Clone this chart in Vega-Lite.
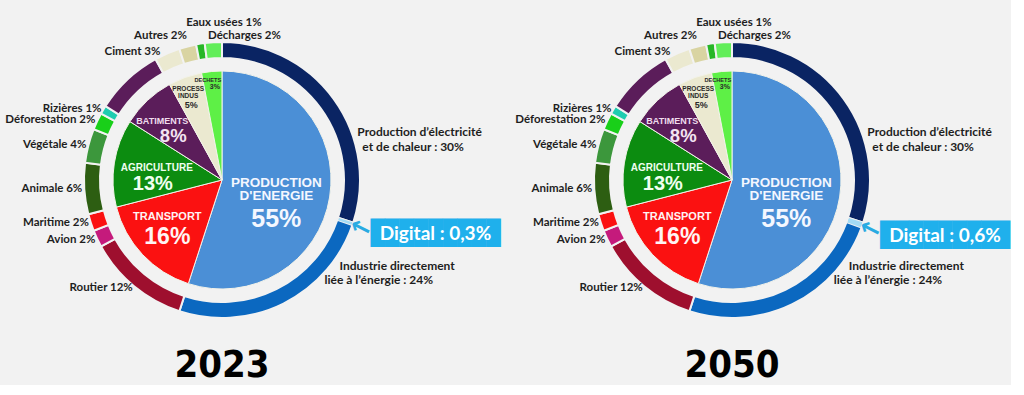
{
  "$schema": "https://vega.github.io/schema/vega-lite/v6.json",
  "background": "#f2f2f2",
  "padding": 0,
  "bounds": "flush",
  "spacing": 66,
  "config": {"view": {"stroke": null}},
  "data": {"values": [
    {"year":"2023","ring":"inner","ord":1,"cat":"Énergie","name":"PRODUCTION\nD'ENERGIE","pct":"55%","value":55},
    {"year":"2023","ring":"inner","ord":2,"cat":"Transport","name":"TRANSPORT","pct":"16%","value":16},
    {"year":"2023","ring":"inner","ord":3,"cat":"Agriculture","name":"AGRICULTURE","pct":"13%","value":13},
    {"year":"2023","ring":"inner","ord":4,"cat":"Bâtiments","name":"BATIMENTS","pct":"8%","value":8},
    {"year":"2023","ring":"inner","ord":5,"cat":"Process","name":"PROCESS\nINDUS","pct":"5%","value":5},
    {"year":"2023","ring":"inner","ord":6,"cat":"Déchets","name":"DECHETS","pct":"3%","value":3},
    {"year":"2023","ring":"outer","ord":1,"cat":"Électricité","label":"Production d’électricité","label2":"et de chaleur : 30%","value":30},
    {"year":"2023","ring":"outer","ord":2,"cat":"Digital","label":"Digital : 0,3%","value":0.3},
    {"year":"2023","ring":"outer","ord":3,"cat":"Industrie","label":"Industrie directement","label2":"liée à l’énergie : 24%","value":24.7},
    {"year":"2023","ring":"outer","ord":4,"cat":"Routier","label":"Routier 12%","value":12},
    {"year":"2023","ring":"outer","ord":5,"cat":"Avion","label":"Avion 2%","value":2},
    {"year":"2023","ring":"outer","ord":6,"cat":"Maritime","label":"Maritime 2%","value":2},
    {"year":"2023","ring":"outer","ord":7,"cat":"Animale","label":"Animale 6%","value":6},
    {"year":"2023","ring":"outer","ord":8,"cat":"Végétale","label":"Végétale 4%","value":4},
    {"year":"2023","ring":"outer","ord":9,"cat":"Déforestation","label":"Déforestation 2%","value":2},
    {"year":"2023","ring":"outer","ord":10,"cat":"Rizières","label":"Rizières 1%","value":1},
    {"year":"2023","ring":"outer","ord":11,"cat":"Bâtiments","label":"","value":8},
    {"year":"2023","ring":"outer","ord":12,"cat":"Ciment","label":"Ciment 3%","value":3},
    {"year":"2023","ring":"outer","ord":13,"cat":"Autres","label":"Autres 2%","value":2},
    {"year":"2023","ring":"outer","ord":14,"cat":"Eaux usées","label":"Eaux usées 1%","value":1},
    {"year":"2023","ring":"outer","ord":15,"cat":"Décharges","label":"Décharges 2%","value":2},
    {"year":"2050","ring":"inner","ord":1,"cat":"Énergie","name":"PRODUCTION\nD'ENERGIE","pct":"55%","value":55},
    {"year":"2050","ring":"inner","ord":2,"cat":"Transport","name":"TRANSPORT","pct":"16%","value":16},
    {"year":"2050","ring":"inner","ord":3,"cat":"Agriculture","name":"AGRICULTURE","pct":"13%","value":13},
    {"year":"2050","ring":"inner","ord":4,"cat":"Bâtiments","name":"BATIMENTS","pct":"8%","value":8},
    {"year":"2050","ring":"inner","ord":5,"cat":"Process","name":"PROCESS\nINDUS","pct":"5%","value":5},
    {"year":"2050","ring":"inner","ord":6,"cat":"Déchets","name":"DECHETS","pct":"3%","value":3},
    {"year":"2050","ring":"outer","ord":1,"cat":"Électricité","label":"Production d’électricité","label2":"et de chaleur : 30%","value":30},
    {"year":"2050","ring":"outer","ord":2,"cat":"Digital","label":"Digital : 0,6%","value":0.6},
    {"year":"2050","ring":"outer","ord":3,"cat":"Industrie","label":"Industrie directement","label2":"liée à l’énergie : 24%","value":24.4},
    {"year":"2050","ring":"outer","ord":4,"cat":"Routier","label":"Routier 12%","value":12},
    {"year":"2050","ring":"outer","ord":5,"cat":"Avion","label":"Avion 2%","value":2},
    {"year":"2050","ring":"outer","ord":6,"cat":"Maritime","label":"Maritime 2%","value":2},
    {"year":"2050","ring":"outer","ord":7,"cat":"Animale","label":"Animale 6%","value":6},
    {"year":"2050","ring":"outer","ord":8,"cat":"Végétale","label":"Végétale 4%","value":4},
    {"year":"2050","ring":"outer","ord":9,"cat":"Déforestation","label":"Déforestation 2%","value":2},
    {"year":"2050","ring":"outer","ord":10,"cat":"Rizières","label":"Rizières 1%","value":1},
    {"year":"2050","ring":"outer","ord":11,"cat":"Bâtiments","label":"","value":8},
    {"year":"2050","ring":"outer","ord":12,"cat":"Ciment","label":"Ciment 3%","value":3},
    {"year":"2050","ring":"outer","ord":13,"cat":"Autres","label":"Autres 2%","value":2},
    {"year":"2050","ring":"outer","ord":14,"cat":"Eaux usées","label":"Eaux usées 1%","value":1},
    {"year":"2050","ring":"outer","ord":15,"cat":"Décharges","label":"Décharges 2%","value":2}
  ]},
  "facet": {"column": {"field": "year", "type": "nominal", "header": {"title": null, "labelOrient": "bottom", "labelFont": "DejaVu Sans Condensed", "labelFontSize": 38, "labelFontWeight": "bold", "labelColor": "#000000", "labelPadding": -13}}},
  "spec": {
    "width": 444,
    "height": 360,
    "encoding": {
      "theta": {"field": "value", "type": "quantitative", "stack": true, "scale": {"domain": [0, 100]}},
      "order": {"field": "ord", "type": "quantitative"},
      "detail": {"field": "cat", "type": "nominal"}
    },
    "layer": [
      {
        "transform": [{"filter": "datum.ring === 'outer'"}],
        "layer": [
          {"mark": {"type": "arc", "outerRadius": 138, "innerRadius": 122, "stroke": "#f2f2f2", "strokeWidth": 2},
           "encoding": {"color": {"field": "cat", "type": "nominal", "legend": null,
             "scale": {"domain": ["Énergie","Transport","Agriculture","Bâtiments","Process","Déchets","Électricité","Digital","Industrie","Routier","Avion","Maritime","Animale","Végétale","Déforestation","Rizières","Ciment","Autres","Eaux usées","Décharges"],
                       "range": ["#4b8fd6","#fb1111","#0c8c10","#5b1d5a","#ebe9d0","#5ef046","#0a2463","#a3dbf5","#0b68c0","#9e0f2e","#c51a7c","#fb1111","#2d5e12","#3c973c","#19cf19","#20ccb0","#ebe9d0","#d9d4a2","#27b627","#62ee5a"]}}}},
          {"mark": {"type": "arc", "outerRadius": 137, "innerRadius": 123},
           "encoding": {"color": {"field": "cat", "type": "nominal", "legend": null},
             "opacity": {"condition": {"test": "datum.cat === 'Digital'", "value": 1}, "value": 0}}},
          {"mark": {"type": "text", "radius": 140, "align": "right", "baseline": "middle", "font": "Lato", "fontWeight": "bold", "fontSize": 11.5, "color": "#1e1e1e"},
           "encoding": {"text": {"condition": {"test": "indexof(['Routier','Avion','Maritime','Animale','Végétale','Déforestation','Rizières'], datum.cat) >= 0", "field": "label"}, "value": ""}}},
          {"mark": {"type": "text", "radius": 140, "dx": -6, "align": "right", "baseline": "middle", "font": "Lato", "fontWeight": "bold", "fontSize": 11.5, "color": "#1e1e1e"},
           "encoding": {"text": {"condition": {"test": "datum.cat === 'Ciment'", "field": "label"}, "value": ""}}},
          {"mark": {"type": "text", "radius": 149, "dx": 2, "align": "right", "baseline": "middle", "font": "Lato", "fontWeight": "bold", "fontSize": 11.5, "color": "#1e1e1e"},
           "encoding": {"text": {"condition": {"test": "datum.cat === 'Autres'", "field": "label"}, "value": ""}}},
          {"mark": {"type": "text", "radius": 159, "dx": -11, "align": "left", "baseline": "middle", "font": "Lato", "fontWeight": "bold", "fontSize": 11.5, "color": "#1e1e1e"},
           "encoding": {"text": {"condition": {"test": "datum.cat === 'Eaux usées'", "field": "label"}, "value": ""}}},
          {"mark": {"type": "text", "radius": 144, "dx": -5, "align": "left", "baseline": "middle", "font": "Lato", "fontWeight": "bold", "fontSize": 11.5, "color": "#1e1e1e"},
           "encoding": {"text": {"condition": {"test": "datum.cat === 'Décharges'", "field": "label"}, "value": ""}}},
          {"mark": {"type": "text", "radius": 150, "dx": 14, "dy": 40, "align": "left", "baseline": "middle", "font": "Lato", "fontWeight": "bold", "fontSize": 12, "color": "#1e1e1e"},
           "encoding": {"text": {"condition": {"test": "datum.cat === 'Électricité'", "field": "label"}, "value": ""}}},
          {"mark": {"type": "text", "radius": 150, "dx": 19, "dy": 55, "align": "left", "baseline": "middle", "font": "Lato", "fontWeight": "bold", "fontSize": 12, "color": "#1e1e1e"},
           "encoding": {"text": {"condition": {"test": "datum.cat === 'Électricité'", "field": "label2"}, "value": ""}}},
          {"mark": {"type": "text", "radius": 100, "dx": 73, "dy": -4, "align": "left", "baseline": "middle", "font": "Lato", "fontWeight": "bold", "fontSize": 12, "color": "#1e1e1e"},
           "encoding": {"text": {"condition": {"test": "datum.cat === 'Industrie'", "field": "label"}, "value": ""}}},
          {"mark": {"type": "text", "radius": 100, "dx": 58, "dy": 10, "align": "left", "baseline": "middle", "font": "Lato", "fontWeight": "bold", "fontSize": 12, "color": "#1e1e1e"},
           "encoding": {"text": {"condition": {"test": "datum.cat === 'Industrie'", "field": "label2"}, "value": ""}}},
          {"mark": {"type": "text", "radius": 146, "dx": 75, "dy": 8, "align": "center", "baseline": "middle", "font": "DejaVu Sans Mono", "fontSize": 24, "color": "#1fb0ec"},
           "encoding": {"text": {"condition": {"test": "datum.cat === 'Digital'", "value": "█████████"}, "value": ""}}},
          {"mark": {"type": "text", "radius": 147, "dy": 1, "angle": 27, "align": "center", "baseline": "middle", "font": "DejaVu Sans", "fontWeight": "bold", "fontSize": 25, "color": "#29abe2"},
           "encoding": {"text": {"condition": {"test": "datum.cat === 'Digital'", "value": "←"}, "value": ""}}},
          {"mark": {"type": "text", "radius": 146, "dx": 75, "dy": 8, "align": "center", "baseline": "middle", "font": "Lato", "fontWeight": "bold", "fontSize": 19, "color": "#ffffff"},
           "encoding": {"text": {"condition": {"test": "datum.cat === 'Digital'", "field": "label"}, "value": ""}}}
        ]
      },
      {
        "transform": [{"filter": "datum.ring === 'inner'"}],
        "layer": [
          {"mark": {"type": "arc", "outerRadius": 109, "stroke": "#f3f3ea", "strokeWidth": 1},
           "encoding": {"color": {"field": "cat", "type": "nominal", "legend": null}}},
          {"mark": {"type": "text", "radius": 55, "dy": -6, "align": "center", "baseline": "middle", "lineBreak": "\n", "lineHeight": 13, "font": "Liberation Sans", "fontWeight": "bold", "fontSize": 13.5, "color": "#f4f7ff"},
           "encoding": {"text": {"condition": {"test": "datum.cat === 'Énergie'", "field": "name"}, "value": ""}}},
          {"mark": {"type": "text", "radius": 55, "dy": 30, "align": "center", "baseline": "middle", "font": "Liberation Sans", "fontWeight": "bold", "fontSize": 25, "color": "#f4f7ff"},
           "encoding": {"text": {"condition": {"test": "datum.cat === 'Énergie'", "field": "pct"}, "value": ""}}},
          {"mark": {"type": "text", "radius": 75, "dy": -14, "align": "center", "baseline": "middle", "font": "Liberation Sans", "fontWeight": "bold", "fontSize": 11, "color": "#fff4f4"},
           "encoding": {"text": {"condition": {"test": "datum.cat === 'Transport'", "field": "name"}, "value": ""}}},
          {"mark": {"type": "text", "radius": 75, "dy": 6, "align": "center", "baseline": "middle", "font": "Liberation Sans", "fontWeight": "bold", "fontSize": 23, "color": "#fff4f4"},
           "encoding": {"text": {"condition": {"test": "datum.cat === 'Transport'", "field": "pct"}, "value": ""}}},
          {"mark": {"type": "text", "radius": 67, "dx": 1, "dy": -2, "align": "center", "baseline": "middle", "font": "Liberation Sans", "fontWeight": "bold", "fontSize": 10, "color": "#f0fff0"},
           "encoding": {"text": {"condition": {"test": "datum.cat === 'Agriculture'", "field": "name"}, "value": ""}}},
          {"mark": {"type": "text", "radius": 67, "dx": -3, "dy": 14, "align": "center", "baseline": "middle", "font": "Liberation Sans", "fontWeight": "bold", "fontSize": 20, "color": "#f0fff0"},
           "encoding": {"text": {"condition": {"test": "datum.cat === 'Agriculture'", "field": "pct"}, "value": ""}}},
          {"mark": {"type": "text", "radius": 80, "dx": -5, "dy": -1, "align": "center", "baseline": "middle", "font": "Liberation Sans", "fontWeight": "bold", "fontSize": 9, "color": "#f0dcee"},
           "encoding": {"text": {"condition": {"test": "datum.cat === 'Bâtiments'", "field": "name"}, "value": ""}}},
          {"mark": {"type": "text", "radius": 80, "dx": 6, "dy": 14, "align": "center", "baseline": "middle", "font": "Liberation Sans", "fontWeight": "bold", "fontSize": 18.5, "color": "#f3e4f2"},
           "encoding": {"text": {"condition": {"test": "datum.cat === 'Bâtiments'", "field": "pct"}, "value": ""}}},
          {"mark": {"type": "text", "radius": 85, "dx": -5, "dy": -11, "align": "center", "baseline": "middle", "lineBreak": "\n", "lineHeight": 6.5, "font": "Liberation Sans", "fontWeight": "bold", "fontSize": 6.5, "color": "#2a2a2a"},
           "encoding": {"text": {"condition": {"test": "datum.cat === 'Process'", "field": "name"}, "value": ""}}},
          {"mark": {"type": "text", "radius": 85, "dx": -2, "dy": 5, "align": "center", "baseline": "middle", "font": "Liberation Sans", "fontWeight": "bold", "fontSize": 9, "color": "#2a2a2a"},
           "encoding": {"text": {"condition": {"test": "datum.cat === 'Process'", "field": "pct"}, "value": ""}}},
          {"mark": {"type": "text", "radius": 97, "dx": -5, "dy": -3, "align": "center", "baseline": "middle", "font": "Liberation Sans", "fontWeight": "bold", "fontSize": 5.6, "color": "#2a2a2a"},
           "encoding": {"text": {"condition": {"test": "datum.cat === 'Déchets'", "field": "name"}, "value": ""}}},
          {"mark": {"type": "text", "radius": 97, "dx": 2, "dy": 4, "align": "center", "baseline": "middle", "font": "Liberation Sans", "fontWeight": "bold", "fontSize": 7, "color": "#2a2a2a"},
           "encoding": {"text": {"condition": {"test": "datum.cat === 'Déchets'", "field": "pct"}, "value": ""}}}
        ]
      }
    ]
  }
}
